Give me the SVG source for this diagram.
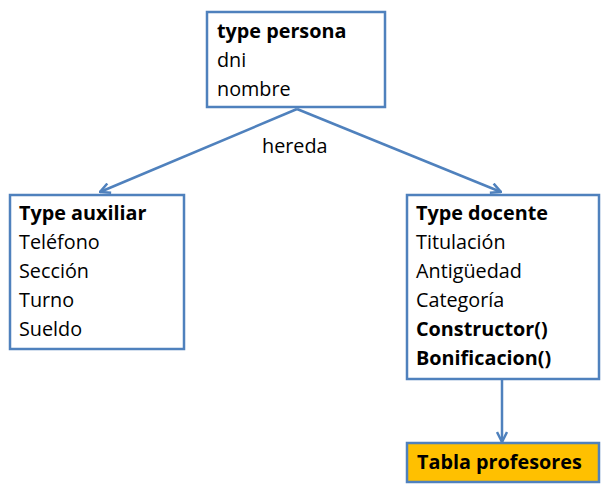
<svg xmlns="http://www.w3.org/2000/svg" width="613" height="495" viewBox="0 0 613 495">
<style>
.box{fill:#fff;stroke:#4F81BD;stroke-width:2.5}
.t{font-family:"Open Sans","Liberation Sans",sans-serif;font-size:19.8px;fill:#000}
.b{font-weight:bold}
.c{stroke:#4F81BD;stroke-width:2.5;fill:none}
</style>
<defs>
<marker id="ah" viewBox="0 0 12 12" refX="11" refY="6" markerWidth="12" markerHeight="12" markerUnits="userSpaceOnUse" orient="auto">
<path d="M1,1 L11,6 L1,11" fill="none" stroke="#4F81BD" stroke-width="2.5"/>
</marker>
</defs>
<g id="connectors">
<line class="c" x1="297" y1="109" x2="100" y2="192" marker-end="url(#ah)"/>
<line class="c" x1="297" y1="109" x2="501" y2="192" marker-end="url(#ah)"/>
<line class="c" x1="502" y1="379" x2="502" y2="442" marker-end="url(#ah)"/>
<text class="t" x="262" y="153">hereda</text>
</g>
<g id="persona">
<rect class="box" x="207" y="12" width="178" height="95"/>
<text class="t b" x="217" y="38">type persona</text>
<text class="t" x="217" y="67">dni</text>
<text class="t" x="217" y="96">nombre</text>
</g>
<g id="auxiliar">
<rect class="box" x="10" y="195" width="174" height="154"/>
<text class="t b" x="19" y="220">Type auxiliar</text>
<text class="t" x="19" y="249">Teléfono</text>
<text class="t" x="19" y="278">Sección</text>
<text class="t" x="19" y="307">Turno</text>
<text class="t" x="19" y="336">Sueldo</text>
</g>
<g id="docente">
<rect class="box" x="407" y="195" width="192" height="184"/>
<text class="t b" x="416" y="220">Type docente</text>
<text class="t" x="416" y="249">Titulación</text>
<text class="t" x="416" y="278">Antigüedad</text>
<text class="t" x="416" y="307">Categoría</text>
<text class="t b" x="416" y="336">Constructor()</text>
<text class="t b" x="416" y="365">Bonificacion()</text>
</g>
<g id="tabla">
<rect x="407" y="443" width="192" height="39" fill="#FFC000" stroke="#4F81BD" stroke-width="2.5"/>
<text class="t b" x="417" y="469">Tabla profesores</text>
</g>
</svg>
